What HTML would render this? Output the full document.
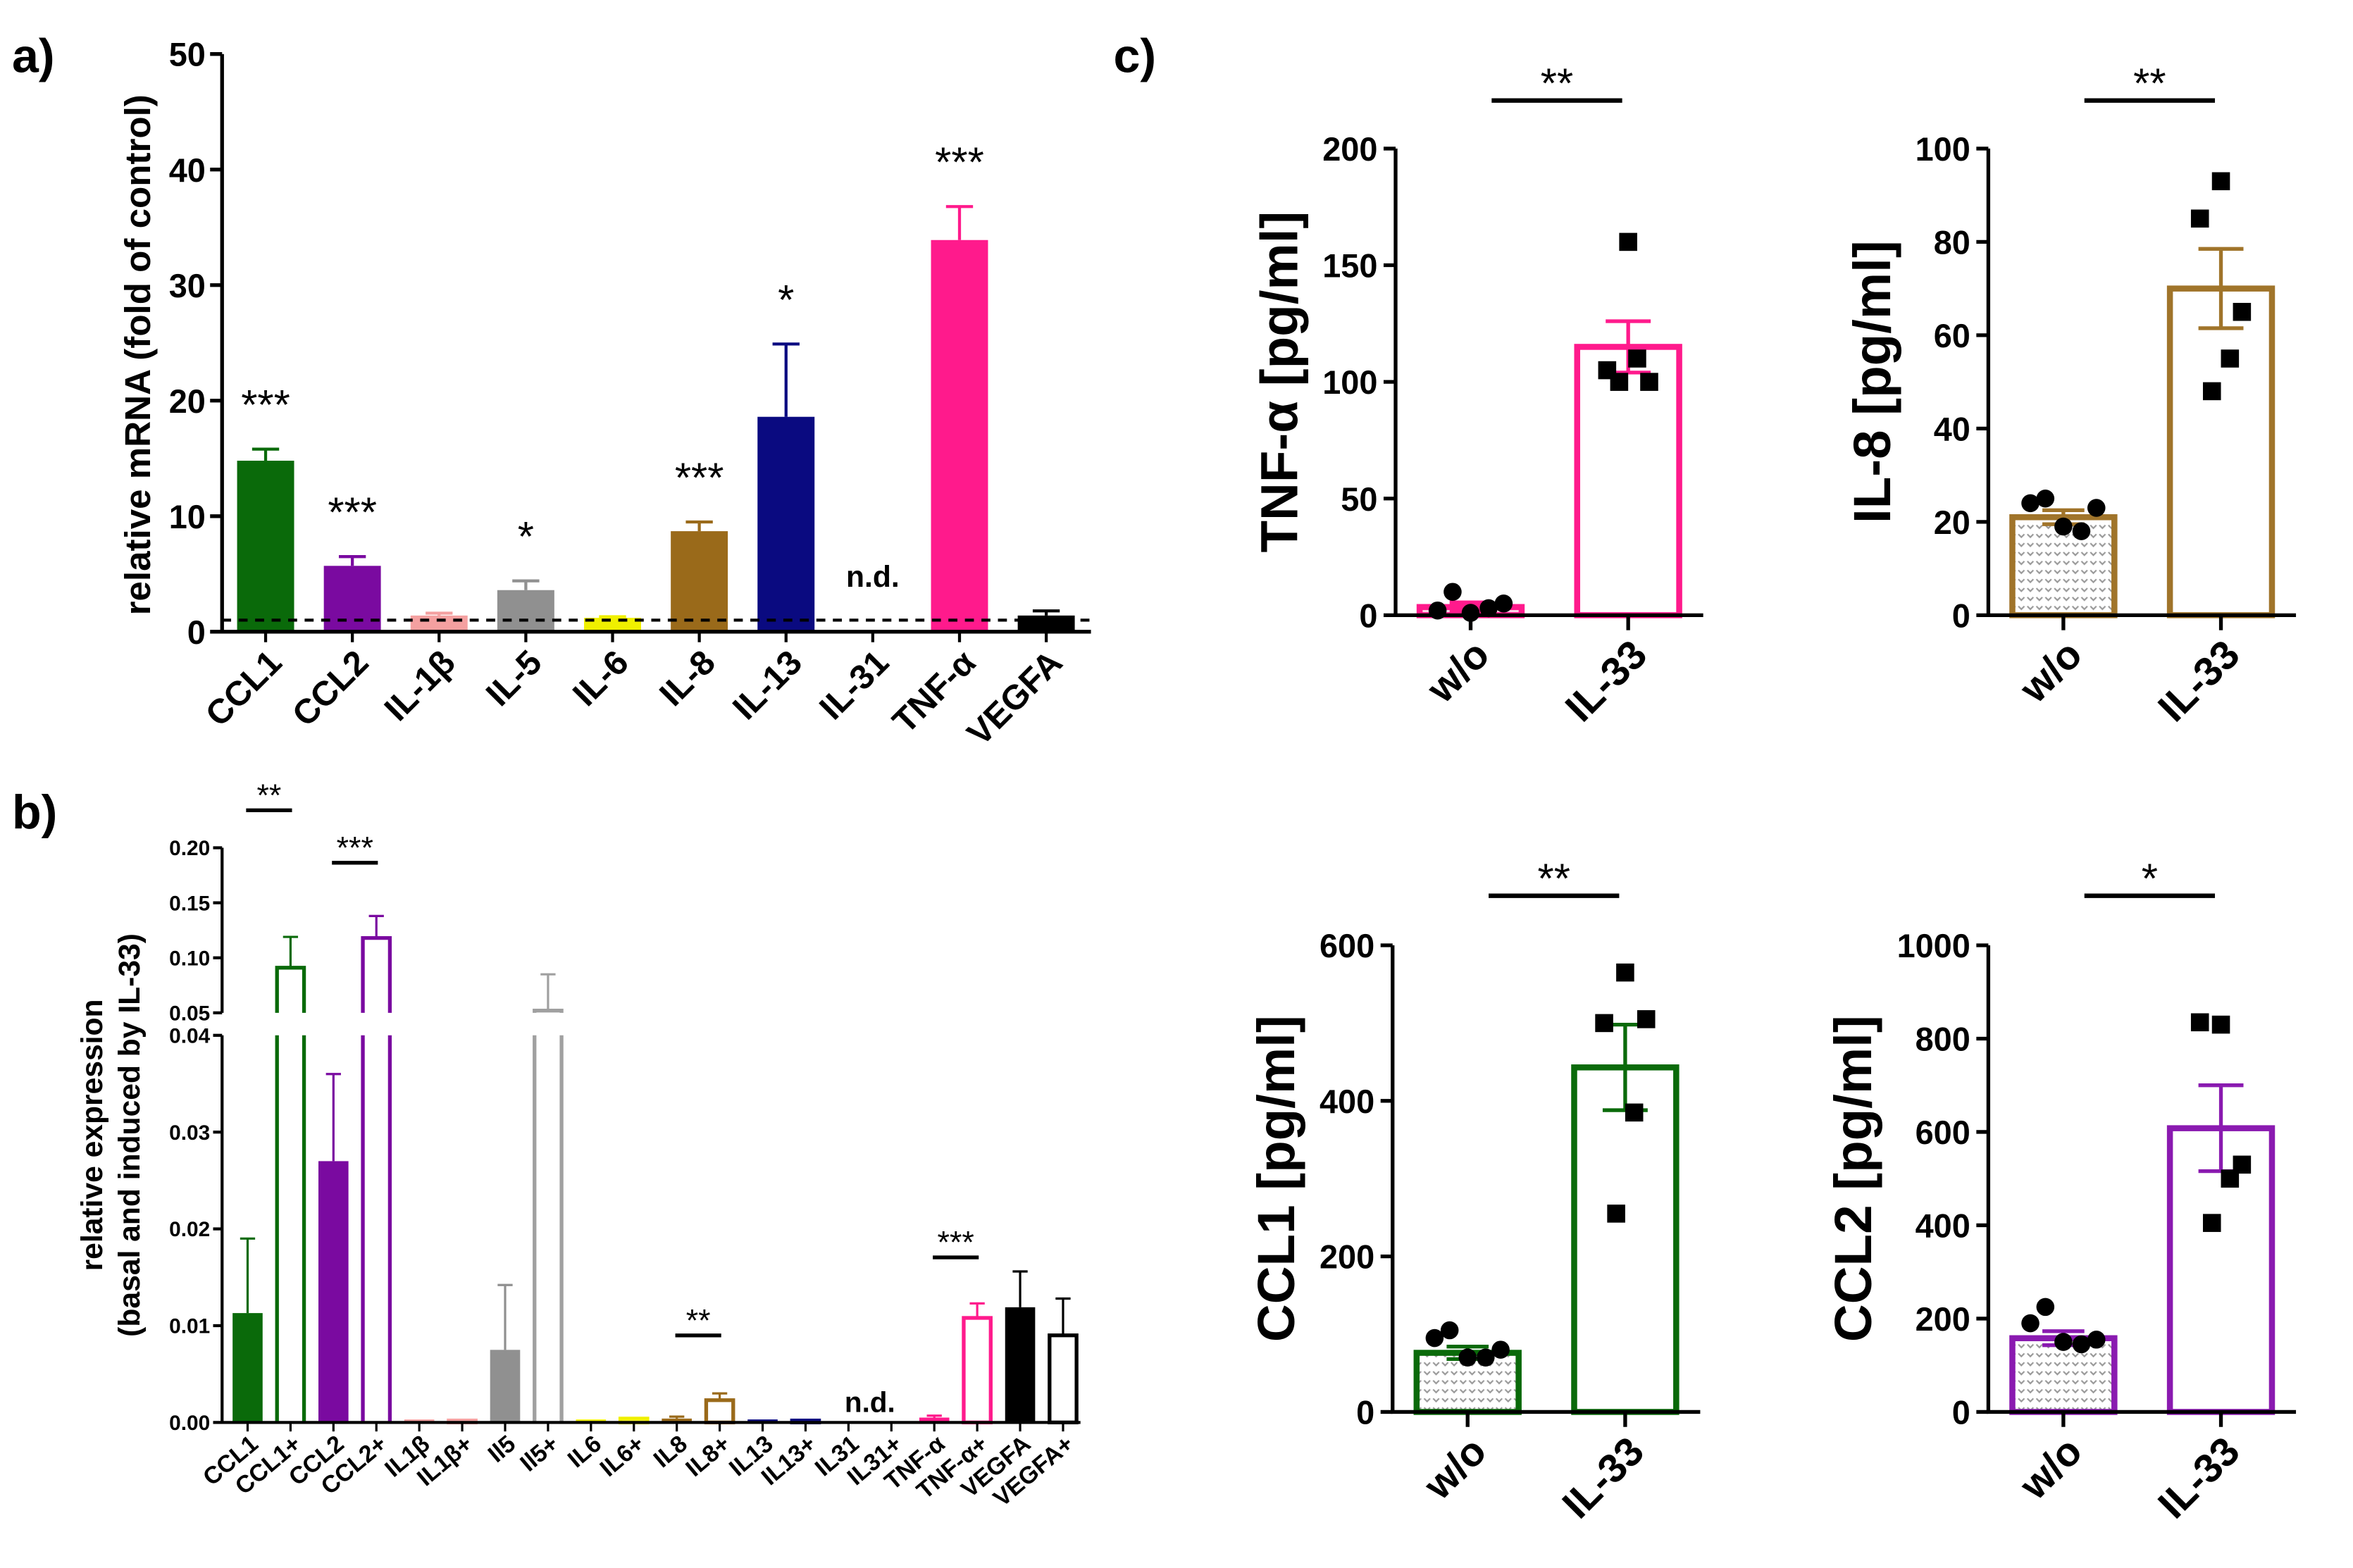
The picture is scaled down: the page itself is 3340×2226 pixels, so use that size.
<!DOCTYPE html>
<html><head><meta charset="utf-8"><style>
html,body{margin:0;padding:0;background:#fff}
svg{display:block;font-family:"Liberation Sans",Arial,sans-serif;font-weight:bold}
</style></head><body>
<svg id="fig" xmlns="http://www.w3.org/2000/svg" width="3340" height="2226" viewBox="0 0 1568 1045">
<defs>
<pattern id="dotp" width="6" height="6" patternUnits="userSpaceOnUse"><rect width="6" height="6" fill="#fff"/><path d="M1 2 L3 4 L5 2" stroke="#999" stroke-width="1" fill="none"/></pattern>
</defs>
<rect width="1568" height="1045" fill="#fff"/>
</svg>
<script>
// ---- panel a data ----
const aCats=["CCL1","CCL2","IL-1β","IL-5","IL-6","IL-8","IL-13","IL-31","TNF-α","VEGFA"];
const aVals=[14.8,5.7,1.4,3.6,1.2,8.7,18.6,null,33.9,1.4];
const aErr=[15.8,6.5,1.6,4.4,1.3,9.5,24.9,null,36.8,1.8];
const aSig=["***","***","","*","","***","*","n.d.","***",""];
const aTicks=[0,10,20,30,40,50];
const aColors=["#0a6a0a","#7a0aa0","#f4a0a0","#909090","#f0f000","#9a6a1a","#0a0a80","#000","#ff1a8c","#000"];
// ---- panel b data ----
const bCats=["CCL1","CCL1+","CCL2","CCL2+","IL1β","IL1β+","Il5","Il5+","IL6","IL6+","IL8","IL8+","IL13","IL13+","IL31","IL31+","TNF-α","TNF-α+","VEGFA","VEGFA+"];
const bVals=[0.0113,0.091,0.027,0.118,0.0002,0.0002,0.0075,0.052,0.0003,0.0004,0.0004,0.0023,0.0001,0.0002,0,0,0.0005,0.0108,0.0119,0.009];
const bErr=[0.019,0.119,0.036,0.138,0.0002,0.0002,0.0142,0.085,0.0003,0.0004,0.0006,0.003,0.0001,0.0002,0,0,0.0007,0.0123,0.0156,0.0128];
const bColors=["#0a6a0a","#0a6a0a","#7a0aa0","#7a0aa0","#f4a0a0","#f4a0a0","#909090","#a0a0a0","#f0f000","#f0f000","#9a6a1a","#9a6a1a","#0a0a80","#0a0a80","#000","#000","#ff1a8c","#ff1a8c","#000","#000"];
const bLowTicks=[0,0.01,0.02,0.03,0.04];
const bHighTicks=[0.05,0.10,0.15,0.20];
// ---- panel c data ----
const cTitles=["TNF-α [pg/ml]","IL-8 [pg/ml]","CCL1 [pg/ml]","CCL2 [pg/ml]"];
const cMax=[200,100,600,1000];
const cTicks=[[0,50,100,150,200],[0,20,40,60,80,100],[0,200,400,600],[0,200,400,600,800,1000]];
const cWoMean=[3.5,21,76,158];
const cWoErr=[2,1.5,8,15];
const cWoDots=[[10,2,1,3,5],[25,24,19,18,23],[105,95,70,70,80],[225,190,150,145,155]];
const cIlMean=[115,70,443,608];
const cIlErr=[11,8.5,55,92];
const cIlDots=[[160,105,100,110,100],[93,85,65,55,48],[565,500,505,385,255],[830,835,530,500,405]];
const cSig=["**","**","**","*"];
const cColors=["#ff1a8c","#a0742a","#0a6a0a","#8a1ab0"];
const cFill=["#ffd6e8","url(#dotp)","url(#dotp)","url(#dotp)"];

const svg=document.getElementById('fig');
const NS="http://www.w3.org/2000/svg";
function mk(tag,at,parent){const e=document.createElementNS(NS,tag);for(const k in at)e.setAttribute(k,at[k]);(parent||svg).appendChild(e);return e;}
function tx(s,at,parent){const e=mk('text',at,parent);e.textContent=s;return e;}
let el;

// ===== panel labels =====
el=tx("a)",{x:8,y:48,'font-size':32});


el=tx("b)",{x:8,y:552,'font-size':32});


el=tx("c)",{x:742,y:48,'font-size':32});



// ===== panel a =====
const aX0=148,aX1=727,aY0=421,aY1=36;
function aY(v){return aY0-(v/50)*(aY0-aY1);}
function aCx(i){return 177+i*57.8;}
const ga=mk('g',{});


aCats.forEach((c,i)=>{
  const cx=aCx(i);
  if(aVals[i]!==null){
    el=mk('line',{x1:cx,x2:cx,y1:aY(aVals[i]),y2:aY(aErr[i]),stroke:aColors[i],'stroke-width':2},ga);
    
    
    mk('line',{x1:cx-9,x2:cx+9,y1:aY(aErr[i]),y2:aY(aErr[i]),stroke:aColors[i],'stroke-width':2},ga);
    el=mk('rect',{x:cx-19,y:aY(aVals[i]),width:38,height:aY0-aY(aVals[i]),fill:aColors[i]},ga);
    
    
  }
  if(aSig[i]){
    if(aSig[i]==="n.d."){
      el=tx(aSig[i],{x:cx,y:aY0-30,'font-size':20,'text-anchor':'middle'},ga);
    } else {
      el=tx(aSig[i],{x:cx,y:aY(aErr[i])-20,'font-size':28,'text-anchor':'middle','font-weight':'normal'},ga);
    }
    
    
  }
  mk('line',{x1:cx,x2:cx,y1:aY0,y2:aY0+7,stroke:'#000','stroke-width':2},ga);
  el=tx(c,{transform:`translate(${cx+12},${aY0+22}) rotate(-45)`,'font-size':23,'text-anchor':'end'},ga);
  
  
});
el=mk('line',{x1:aX0,x2:aX1,y1:aY(1),y2:aY(1),stroke:'#000','stroke-width':2,'stroke-dasharray':'6,5'},ga);


el=mk('path',{d:`M${aX0} ${aY1} V${aY0} H${aX1}`,stroke:'#000','stroke-width':2.5,fill:'none'},ga);


aTicks.forEach(t=>{
  mk('line',{x1:aX0-8,x2:aX0,y1:aY(t),y2:aY(t),stroke:'#000','stroke-width':2.5},ga);
  el=tx(String(t),{x:aX0-11,y:aY(t)+8,'font-size':22,'text-anchor':'end'},ga);
  
  
});
el=tx("relative mRNA (fold of control)",{transform:`translate(100,${(aY0+aY1)/2+8}) rotate(-90)`,'font-size':24,'text-anchor':'middle'},ga);



// ===== panel b =====
const bX0=148,bX1=720,bL0=948,bL1=690,bH0=675,bH1=565;
function bY(v){ if(v<=0.04) return bL0-(v/0.04)*(bL0-bL1); return bH0-((v-0.05)/0.15)*(bH0-bH1);}
function bCx(i){return 165+i*28.6;}
const gb=mk('g',{});


bCats.forEach((c,i)=>{
  const cx=bCx(i),open=c.endsWith('+'),col=bColors[i],v=bVals[i],e=bErr[i];
  if(e>v){
    el=mk('line',{x1:cx,x2:cx,y1:bY(v),y2:bY(e),stroke:col,'stroke-width':1.5},gb);
    
    
    mk('line',{x1:cx-5,x2:cx+5,y1:bY(e),y2:bY(e),stroke:col,'stroke-width':1.5},gb);
  }
  const ytop=bY(v);
  if(v>0){
    if(open){
      if(v>0.04){
        el=mk('path',{d:`M${cx-9} ${bL0} V${bL1} M${cx+9} ${bL0} V${bL1} M${cx-9} ${bH0} V${ytop} H${cx+9} V${bH0}`,stroke:col,'stroke-width':2.5,fill:'none'},gb);
      } else {
        el=mk('rect',{x:cx-9,y:ytop,width:18,height:bL0-ytop,stroke:col,'stroke-width':2.5,fill:'#fff'},gb);
      }
    } else {
      el=mk('rect',{x:cx-10,y:Math.min(ytop,bL0-2),width:20,height:Math.max(bL0-ytop,2),fill:col},gb);
    }
    
    
  }
  mk('line',{x1:cx,x2:cx,y1:bL0,y2:bL0+6,stroke:'#000','stroke-width':1.5},gb);
  el=tx(c,{transform:`translate(${cx+8},${bL0+16}) rotate(-40)`,'font-size':16,'text-anchor':'end'},gb);
  
  
});
el=mk('path',{d:`M${bX0} ${bH1} V${bH0} M${bX0} ${bL1} V${bL0} H${bX1}`,stroke:'#000','stroke-width':2,fill:'none'},gb);


bLowTicks.concat(bHighTicks).forEach(t=>{
  mk('line',{x1:bX0-6,x2:bX0,y1:bY(t),y2:bY(t),stroke:'#000','stroke-width':2},gb);
  el=tx(t.toFixed(2),{x:bX0-8,y:bY(t)+5,'font-size':14,'text-anchor':'end'},gb);
  
  
});
[[0,1,"**",540],[2,3,"***",575],[10,11,"**",890],[16,17,"***",838]].forEach(s=>{
  const x1=bCx(s[0])-1,x2=bCx(s[1])+1;
  el=mk('line',{x1:x1,x2:x2,y1:s[3],y2:s[3],stroke:'#000','stroke-width':2.5},gb);
  
  
  tx(s[2],{x:(x1+x2)/2,y:s[3]-3,'font-size':21,'text-anchor':'middle','font-weight':'normal'},gb);
});
el=tx("n.d.",{x:(bCx(14)+bCx(15))/2,y:941,'font-size':19,'text-anchor':'middle'},gb);


el=tx("relative expression",{transform:`translate(68,${(bH1+bL0)/2}) rotate(-90)`,'font-size':20,'text-anchor':'middle'},gb);


el=tx("(basal and induced by IL-33)",{transform:`translate(93,${(bH1+bL0)/2}) rotate(-90)`,'font-size':20,'text-anchor':'middle'},gb);



// ===== panel c =====
const cAxisX=[930,1325,928,1325];
const cY0=[410,410,941,941];
const cY1=[99,99,630,630];
const cSigY=[67,67,597,597];
cTitles.forEach((title,k)=>{
  const g=mk('g',{});
  
  
  const ax=cAxisX[k],y0=cY0[k],y1=cY1[k];
  const Y=v=>y0-(v/cMax[k])*(y0-y1);
  const woX=ax+50,ilX=ax+155,col=cColors[k];
  el=mk('rect',{x:woX-34,y:Y(cWoMean[k]),width:68,height:y0-Y(cWoMean[k]),fill:cFill[k],stroke:col,'stroke-width':4},g);
  
  
  el=mk('path',{d:`M${woX} ${Y(cWoMean[k]-cWoErr[k])} V${Y(cWoMean[k]+cWoErr[k])} M${woX-14} ${Y(cWoMean[k]+cWoErr[k])} H${woX+14} M${woX-14} ${Y(cWoMean[k]-cWoErr[k])} H${woX+14}`,stroke:col,'stroke-width':2.5,fill:'none'},g);
  
  
  el=mk('rect',{x:ilX-34,y:Y(cIlMean[k]),width:68,height:y0-Y(cIlMean[k]),fill:'none',stroke:col,'stroke-width':4},g);
  
  
  el=mk('path',{d:`M${ilX} ${Y(cIlMean[k]-cIlErr[k])} V${Y(cIlMean[k]+cIlErr[k])} M${ilX-15} ${Y(cIlMean[k]+cIlErr[k])} H${ilX+15} M${ilX-15} ${Y(cIlMean[k]-cIlErr[k])} H${ilX+15}`,stroke:col,'stroke-width':2.5,fill:'none'},g);
  
  
  cWoDots[k].forEach((d,j)=>{
    el=mk('circle',{cx:woX+[-12,-22,0,12,22][j],cy:Y(d),r:6,fill:'#000'},g);
    
    
  });
  cIlDots[k].forEach((d,j)=>{
    const dx=[0,-14,14,6,-6][j];
    el=mk('rect',{x:ilX+dx-6,y:Y(d)-6,width:12,height:12,fill:'#000'},g);
    
    
  });
  el=mk('path',{d:`M${ax} ${y1} V${y0} H${ax+205}`,stroke:'#000','stroke-width':2.5,fill:'none'},g);
  
  
  cTicks[k].forEach(t=>{
    mk('line',{x1:ax-8,x2:ax,y1:Y(t),y2:Y(t),stroke:'#000','stroke-width':2.5},g);
    el=tx(String(t),{x:ax-12,y:Y(t)+8,'font-size':22,'text-anchor':'end'},g);
    
    
  });
  [[woX,"w/o"],[ilX,"IL-33"]].forEach(p=>{
    mk('line',{x1:p[0],x2:p[0],y1:y0,y2:y0+10,stroke:'#000','stroke-width':2.5},g);
    el=tx(p[1],{transform:`translate(${p[0]+14},${y0+28}) rotate(-45)`,'font-size':27,'text-anchor':'end'},g);
    
    
  });
  const tickW=String(cMax[k]).length*12.5+12;
  el=tx(title,{transform:`translate(${ax-tickW-16},${(y0+y1)/2}) rotate(-90)`,'font-size':35,'text-anchor':'middle'},g);
  
  
  el=mk('line',{x1:woX+14,x2:ilX-4,y1:cSigY[k],y2:cSigY[k],stroke:'#000','stroke-width':3},g);
  
  
  el=tx(cSig[k],{x:(woX+ilX)/2+5,y:cSigY[k]-2,'font-size':28,'text-anchor':'middle','font-weight':'normal'},g);
  
  
});
</script>
</body></html>
